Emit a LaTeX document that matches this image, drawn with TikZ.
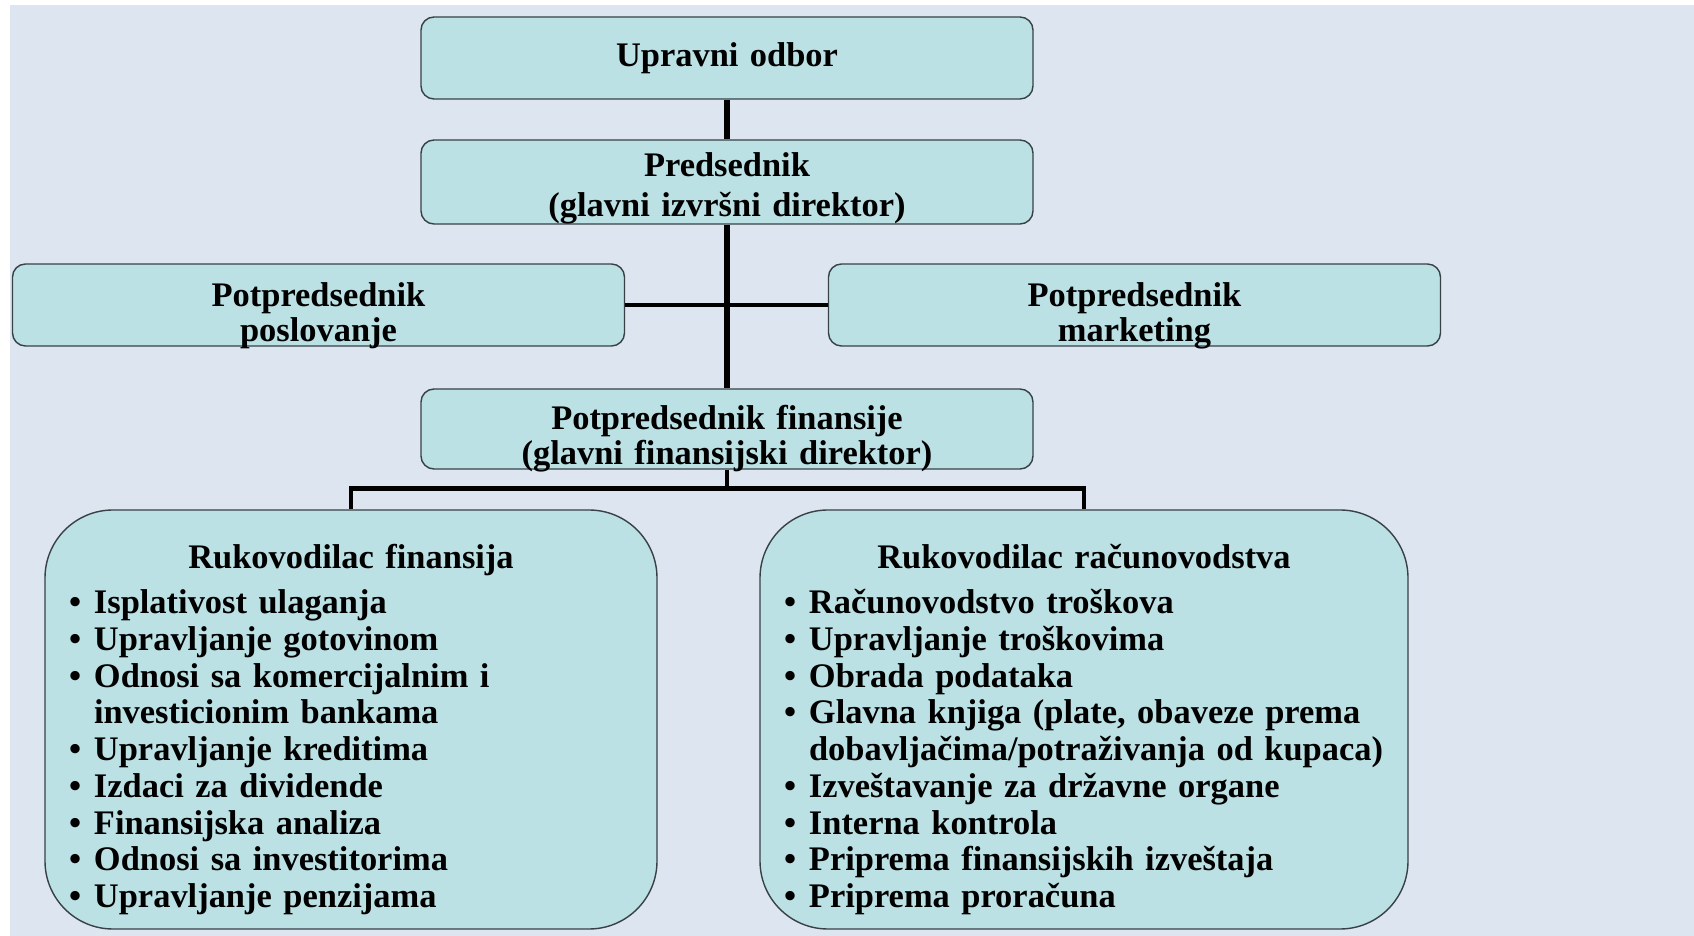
\documentclass[tikz,border=0pt]{standalone}
\usepackage{fontspec}
\setmainfont{Liberation Serif}
\usetikzlibrary{calc}
\usetikzlibrary{positioning}
\definecolor{pozadina}{RGB}{220,229,240}
\definecolor{kutija}{RGB}{188,225,228}
\definecolor{okvir}{RGB}{55,65,70}
\tikzstyle{malikvadrat} = [draw=okvir, fill=kutija, rounded corners=0.13cm, text width=6.12cm, minimum height=0.82cm, align=center, inner sep=0, font=\bfseries\fontsize{9.8}{10.1}\selectfont]
\tikzstyle{velikikvadrat} = [draw=okvir, fill=kutija, rounded corners=0.68cm, minimum height=4.19cm, inner xsep=0.24cm, inner ysep=0, align=left, text height=0pt, text depth=3.02cm, font=\bfseries\fontsize{9.8}{10.45}\selectfont]
\tikzstyle{veza} = [line width=1.4pt]
\tikzstyle{stablo} = [line width=1.8pt]
\newcommand{\stavka}[1]{\par\hangindent=0.25cm\hangafter=1\noindent\makebox[0.25cm][l]{\textbullet}#1}

\begin{document}
\begin{tikzpicture}
    \useasboundingbox (0,0) rectangle (16.94,-9.36);
    \fill[white] (0,0) rectangle (16.94,-9.36);
    \fill[pozadina] (0.10,-0.05) rectangle (16.94,-9.36);

    \node[malikvadrat] (odbor) at (7.27,-0.58) {Upravni odbor};
    \node[malikvadrat, minimum height=0.84cm, text height=0pt, text depth=0.11cm, font=\bfseries\fontsize{9.8}{11.3}\selectfont]
(predsednik) at ($(odbor)+(0,-1.24)$) {Predsednik\\(glavni izvršni direktor)};
    \node[malikvadrat, text height=0.026cm, text depth=0pt] (poslovanje) at ($(predsednik)+(-4.085,-1.23)$)
{Potpredsednik\\poslovanje};
    \node[malikvadrat, text height=0.026cm, text depth=0pt] (marketing) at ($(predsednik)+(4.075,-1.23)$)
{Potpredsednik\\marketing};
    \node[malikvadrat, minimum height=0.80cm, text height=0.006cm, text depth=0pt,
font=\bfseries\fontsize{9.8}{9.9}\selectfont] (finansije) at ($(predsednik)+(0,-2.47)$)
{Potpredsednik finansije\\(glavni finansijski direktor)};

    \node[velikikvadrat, text width=5.64cm] (rukfin) at ($(finansije)+(-3.76,-2.905)$) {%
{\centering Rukovodilac finansija\par}\vspace{0.085cm}%
\stavka{Isplativost ulaganja}
\stavka{Upravljanje gotovinom}
\stavka{Odnosi sa komercijalnim i\newline investicionim bankama}
\stavka{Upravljanje kreditima}
\stavka{Izdaci za dividende}
\stavka{Finansijska analiza}
\stavka{Odnosi sa investitorima}
\stavka{Upravljanje penzijama}};
    \node[velikikvadrat, text width=6.00cm] (rukrac) at ($(finansije)+(3.57,-2.905)$) {%
{\centering Rukovodilac računovodstva\par}\vspace{0.085cm}%
\stavka{Računovodstvo troškova}
\stavka{Upravljanje troškovima}
\stavka{Obrada podataka}
\stavka{Glavna knjiga (plate, obaveze prema\newline dobavljačima/potraživanja od kupaca)}
\stavka{Izveštavanje za državne organe}
\stavka{Interna kontrola}
\stavka{Priprema finansijskih izveštaja}
\stavka{Priprema proračuna}};

    \coordinate (sabirnica) at ($(finansije.south)+(0,-0.19)$);
    \draw[stablo] (odbor) -- (predsednik);
    \draw[stablo] (predsednik) -- (finansije);
    \draw[veza] (poslovanje) -- (marketing);
    \draw[veza] (finansije) -- (sabirnica);
    \draw[veza] (rukfin.north) |- (sabirnica) -| (rukrac.north);
\end{tikzpicture}
\end{document}
